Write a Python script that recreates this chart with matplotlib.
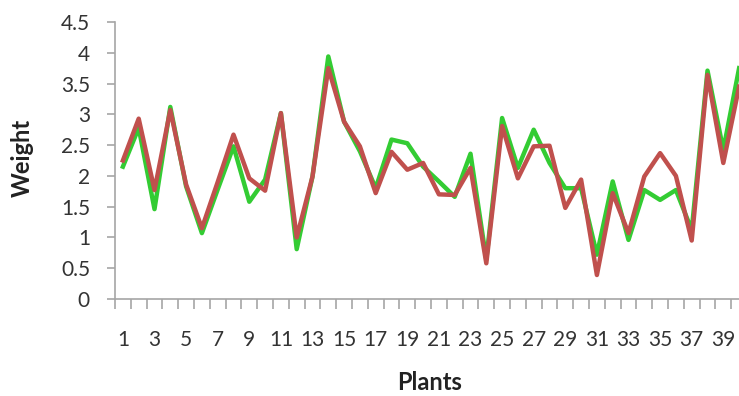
import matplotlib
matplotlib.use("Agg")
import matplotlib.pyplot as plt
import numpy as np

plt.rcParams["font.family"] = ["Lato", "DejaVu Sans"]

# plant number 1..40
plants = list(range(1, 41))
# green series
weight_a = [2.15, 2.78, 1.46, 3.12, 1.83, 1.07, 1.78, 2.48, 1.58, 1.94,
            3.02, 0.81, 1.99, 3.94, 2.88, 2.40, 1.80, 2.59, 2.53, 2.15,
            1.91, 1.66, 2.36, 0.64, 2.94, 2.13, 2.75, 2.21, 1.80, 1.80,
            0.72, 1.91, 0.96, 1.77, 1.61, 1.77, 1.12, 3.71, 2.42, 3.75]
# red series
weight_b = [2.25, 2.93, 1.77, 3.07, 1.86, 1.15, 1.90, 2.67, 1.96, 1.76,
            3.02, 1.00, 1.99, 3.75, 2.88, 2.48, 1.72, 2.39, 2.10, 2.21,
            1.70, 1.69, 2.13, 0.58, 2.81, 1.96, 2.48, 2.49, 1.48, 1.94,
            0.39, 1.72, 1.07, 1.99, 2.37, 2.00, 0.95, 3.64, 2.21, 3.45]
y_ticks = [0, 0.5, 1, 1.5, 2, 2.5, 3, 3.5, 4, 4.5]
y_tick_labels = ["0", "0.5", "1", "1.5", "2", "2.5", "3", "3.5", "4", "4.5"]

fig = plt.figure(figsize=(7.39, 3.96), dpi=100)
# axes runs a bit past the right edge, so the last plant sits on the border
ax = fig.add_axes([115 / 739, 97 / 396, 632 / 739, 277 / 396])

ax.plot(plants, weight_a, color="#33cc33", lw=3.2)
ax.plot(plants, weight_b, color="#c0504d", lw=3.2)

ax.set_xlim(0.5, 40.5)
ax.set_ylim(0, 4.5)

for s in ["top", "right"]:
    ax.spines[s].set_visible(False)
for s in ["left", "bottom"]:
    ax.spines[s].set_color("#a6a6a6")
    ax.spines[s].set_linewidth(1.2)

ax.set_yticks(y_ticks)
ax.set_yticklabels(y_tick_labels)
ax.tick_params(axis="y", length=6, width=1.2, color="#a6a6a6",
               labelsize=15, labelcolor="#333333", pad=12)

# tick marks between categories, labels on odd plants
ax.set_xticks(np.arange(0.5, 41, 1))
ax.set_xticklabels([])
ax.tick_params(axis="x", which="major", length=7, width=1.2, color="#a6a6a6")
ax.set_xticks(plants[::2], minor=True)
ax.set_xticklabels([str(p) for p in plants[::2]], minor=True)
ax.tick_params(axis="x", which="minor", length=0, pad=22,
               labelsize=15, labelcolor="#333333")

fig.text(22 / 739, 1 - 158 / 396, "Weight", rotation=90, ha="center",
         va="center", fontsize=17, fontweight="bold", color="#222222")
fig.text(430 / 739, 1 - 382 / 396, "Plants", ha="center", va="center",
         fontsize=17, fontweight="bold", color="#222222")

fig.savefig("out.png", dpi=100)
